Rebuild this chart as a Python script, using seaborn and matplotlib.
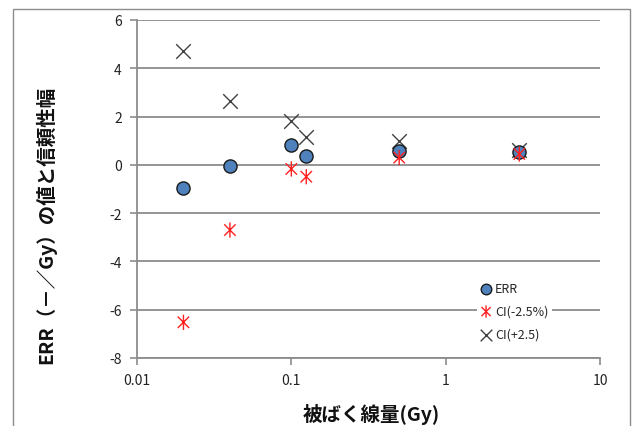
import numpy as np
import pandas as pd
import matplotlib
matplotlib.use("Agg")
import matplotlib.pyplot as plt
from matplotlib.path import Path
from matplotlib.patches import Rectangle
import seaborn as sns

# Dose points (Gy) and estimates
dose = [0.02, 0.04, 0.1, 0.125, 0.5, 3.0]
err = [-0.97, -0.03, 0.84, 0.38, 0.59, 0.53]
ci_low = [-6.52, -2.70, -0.17, -0.49, 0.30, 0.45]
ci_high = [4.73, 2.66, 1.83, 1.17, 1.00, 0.60]

series_labels = ["ERR", "CI(-2.5%)", "CI(+2.5)"]
x_ticks = [0.01, 0.1, 1, 10]
x_tick_labels = ["0.01", "0.1", "1", "10"]
y_ticks = [-8, -6, -4, -2, 0, 2, 4, 6]

df = pd.DataFrame({"dose": dose, "err": err, "lo": ci_low, "hi": ci_high})

sns.set_theme(style="white")
plt.rcParams["font.family"] = ["Noto Sans CJK JP", "DejaVu Sans"]

fig = plt.figure(figsize=(6.35, 4.27), dpi=100)
ax = fig.add_axes([137 / 635, 1 - 359 / 427, 463 / 635, 338 / 427])

# asterisk marker: vertical stroke plus a cross
star_path = Path(
    [(0, -1), (0, 1), (-0.75, -0.75), (0.75, 0.75), (-0.75, 0.75), (0.75, -0.75)],
    [Path.MOVETO, Path.LINETO, Path.MOVETO, Path.LINETO, Path.MOVETO, Path.LINETO],
)

sns.scatterplot(data=df, x="dose", y="err", ax=ax, marker="o", s=90,
                color="#4f81bd", edgecolor="#1a1a1a", linewidth=1.0,
                label=series_labels[0], zorder=4)
sns.scatterplot(data=df, x="dose", y="lo", ax=ax, marker=star_path, s=120,
                facecolor="none", edgecolor="#ff2020", linewidth=1.0,
                label=series_labels[1], zorder=5)
sns.scatterplot(data=df, x="dose", y="hi", ax=ax, marker="x", s=110,
                color="#404040", linewidth=1.0,
                label=series_labels[2], zorder=3)

ax.set_xscale("log")
ax.set_xlim(0.01, 10)
ax.set_ylim(-8, 6)
ax.set_xticks(x_ticks)
ax.set_xticklabels(x_tick_labels)
ax.xaxis.set_minor_locator(matplotlib.ticker.NullLocator())
ax.set_yticks(y_ticks)
ax.set_yticklabels([str(v) for v in y_ticks])

ax.grid(axis="y", color="#8c8c8c", linewidth=1.3)
ax.grid(axis="x", visible=False)
ax.set_axisbelow(True)
for side in ["top", "right"]:
    ax.spines[side].set_visible(False)
for side in ["left", "bottom"]:
    ax.spines[side].set_color("#8c8c8c")
    ax.spines[side].set_linewidth(1.3)

ax.tick_params(axis="both", which="major", direction="out", length=5,
               width=1.2, color="#8c8c8c", labelsize=10, labelcolor="#222222",
               left=True, bottom=True, pad=6)
ax.set_xlabel("")
ax.set_ylabel("")

leg = ax.legend(loc="center left", bbox_to_anchor=(0.735, 0.138), frameon=True,
                facecolor="white", edgecolor="none", framealpha=1,
                fontsize=9, handlelength=0.8, handletextpad=0.3,
                labelspacing=0.8, borderpad=0.3, borderaxespad=0,
                markerscale=0.8)
leg.set_zorder(6)

fig.text(371 / 635, 1 - 414 / 427, "被ばく線量(Gy)", ha="center", va="center",
         fontsize=14, fontweight="bold", color="#111111")
fig.text(46 / 635, 1 - 225 / 427, "ERR（－／Gy）の値と信頼性幅", ha="center",
         va="center", rotation=90, fontsize=14, fontweight="bold",
         color="#111111")

# outer chart border
fig.patches.append(Rectangle((13 / 635, -0.05), 617 / 635, 1.05 - 10 / 427,
                             transform=fig.transFigure, fill=False,
                             edgecolor="#8c8c8c", linewidth=1.0))

fig.savefig("out.png", dpi=100)
